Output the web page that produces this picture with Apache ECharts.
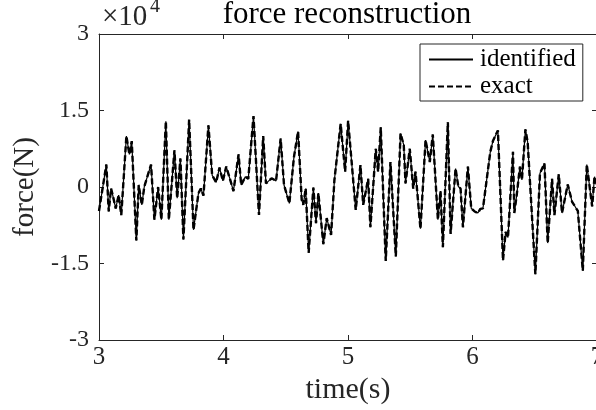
<!DOCTYPE html>
<html>
<head>
<meta charset="utf-8">
<script src="https://cdn.jsdelivr.net/npm/echarts@6/dist/echarts.min.js"></script>
<style>html,body{margin:0;padding:0;background:#fff;}#c{width:596px;height:410px;}</style>
</head>
<body>
<div id="c"></div>
<script>
var FONT = '"Liberation Serif","Times New Roman",serif';
var titleText = 'force reconstruction';
var xName = 'time(s)';
var yName = 'force(N)';
var seriesNames = ['identified', 'exact'];
var xTicks = [3, 4, 5, 6, 7];
var yTicks = [-30000, -15000, 0, 15000, 30000];

var times = [
 3.000, 3.059, 3.078, 3.097, 3.113, 3.134, 3.158, 3.179, 3.220, 3.244,
 3.263, 3.300, 3.319, 3.344, 3.364, 3.418, 3.445, 3.475, 3.501, 3.537,
 3.561, 3.606, 3.628, 3.654, 3.678, 3.724, 3.759, 3.799, 3.818, 3.839,
 3.879, 3.909, 3.941, 3.968, 3.995, 4.022, 4.054, 4.080, 4.121, 4.142,
 4.175, 4.199, 4.241, 4.285, 4.319, 4.341, 4.386, 4.422, 4.459, 4.486,
 4.529, 4.566, 4.599, 4.628, 4.641, 4.660, 4.684, 4.722, 4.743, 4.762,
 4.802, 4.829, 4.864, 4.891, 4.941, 4.977, 5.001, 5.062, 5.100, 5.122,
 5.162, 5.180, 5.223, 5.242, 5.263, 5.303, 5.341, 5.384, 5.422, 5.448,
 5.462, 5.496, 5.524, 5.542, 5.582, 5.623, 5.657, 5.681, 5.722, 5.743,
 5.762, 5.802, 5.824, 5.864, 5.886, 5.904, 5.923, 5.963, 5.990, 6.017,
 6.043, 6.063, 6.084, 6.143, 6.164, 6.204, 6.245, 6.266, 6.285, 6.325,
 6.336, 6.355, 6.381, 6.397, 6.425, 6.443, 6.505, 6.542, 6.578, 6.604,
 6.639, 6.658, 6.693, 6.719, 6.765, 6.800, 6.846, 6.886, 6.918, 6.961,
 6.980, 7.000
];

var identified = [
 -4700, 4400, -4800, -300, -1900, -4200, -1600, -5500, 10000, 6400,
 9000, -10500, 400, -3500, 100, 4400, -6400, 0, -6400, 12900,
 -6400, 7200, -2200, 5600, -10300, 13200, -8400, -1200, -300, -1700,
 12100, 2300, 900, 3800, 1200, 4000, 1400, -800, 6400, 400,
 2000, 1600, 13900, -5500, 10000, 700, 1700, 1200, 9500, 400,
 -3200, 5900, 10900, -2500, -3500, -300, -12900, -100, -7100, -1200,
 -11200, -6100, -9400, 1400, 12400, 3000, 13000, -4500, 4300, -3500,
 1600, -7900, 7500, 3000, 11700, -14500, 4900, -13600, 10500, 8200,
 700, 7500, -300, 3000, -8200, 9200, 4900, 10300, -6400, -800,
 -11800, 12700, -9200, 3600, 100, -300, -7900, 4000, -4200, -4800,
 -5100, -4300, -4200, 6900, 9000, 11100, -14400, -8800, -9900, 6900,
 -5100, -1600, 4000, 1400, 11300, 8800, -17100, 2700, 4600, -11000,
 1600, -5500, 2500, -5100, 500, -2900, -4700, -16400, 4400, -3800,
 2000, 400
];

var exact = [
 -4700, 4400, -4800, -300, -1900, -4200, -1600, -5500, 10000, 6400,
 9000, -10500, 400, -3500, 100, 4400, -6400, 0, -6400, 12900,
 -6400, 7200, -2200, 5600, -10300, 13200, -8400, -1200, -300, -1700,
 12100, 2300, 900, 3800, 1200, 4000, 1400, -800, 6400, 400,
 2000, 1600, 13900, -5500, 10000, 700, 1700, 1200, 9500, 400,
 -3200, 5900, 10900, -2500, -3500, -300, -12900, -100, -7100, -1200,
 -11200, -6100, -9400, 1400, 12400, 3000, 13000, -4500, 4300, -3500,
 1600, -7900, 7500, 3000, 11700, -14500, 4900, -13600, 10500, 8200,
 700, 7500, -300, 3000, -8200, 9200, 4900, 10300, -6400, -800,
 -11800, 12700, -9200, 3600, 100, -300, -7900, 4000, -4200, -4800,
 -5100, -4300, -4200, 6900, 9000, 11100, -14400, -8800, -9900, 6900,
 -5100, -1600, 4000, 1400, 11300, 8800, -17100, 2700, 4600, -11000,
 1600, -5500, 2500, -5100, 500, -2900, -4700, -16400, 4400, -3800,
 2000, 400
];

function pairs(ys) { return times.map(function (t, i) { return [t, ys[i]]; }); }

var AX = '#262626';
var xMin = xTicks[0], xMax = xTicks[xTicks.length - 1], xInt = xTicks[1] - xTicks[0];
var yMin = yTicks[0], yMax = yTicks[yTicks.length - 1], yInt = yTicks[1] - yTicks[0];

function fmtY(v) { return String(v / 10000); }

function axisCommon() {
  return {
    axisLine: { show: true, onZero: false, lineStyle: { color: AX, width: 1 } },
    axisTick: { show: true, inside: true, length: 5, lineStyle: { color: AX } },
    splitLine: { show: false }
  };
}

var chart = echarts.init(document.getElementById('c'), null, { renderer: 'canvas' });
chart.setOption({
  animation: false,
  backgroundColor: '#fff',
  title: {
    text: titleText, left: 347, top: -1, textAlign: 'center', padding: 0,
    textStyle: { fontFamily: FONT, fontWeight: 'normal', fontSize: 31, color: '#000' }
  },
  grid: { left: 99, top: 34, width: 498, height: 306, containLabel: false, outerBoundsMode: 'none' },
  legend: {
    data: seriesNames, orient: 'vertical', left: 420, top: 44,
    padding: [3, 7, 2, 8], itemGap: 2, itemWidth: 44, itemHeight: 14,
    backgroundColor: '#fff', borderColor: AX, borderWidth: 1, borderRadius: 0,
    itemStyle: { opacity: 0, color: 'rgba(0,0,0,0)', borderWidth: 0 },
    textStyle: { fontFamily: FONT, fontSize: 25, color: '#000', padding: [0, 0, 0, 2] }
  },
  graphic: [
    { type: 'text', left: 102, top: 3, style: { text: '×10', font: '29px ' + FONT, fill: '#262626' } },
    { type: 'text', left: 150, top: -3, style: { text: '4', font: '20px ' + FONT, fill: '#262626' } }
  ],
  xAxis: [
    Object.assign(axisCommon(), { type: 'value', min: xMin, max: xMax, interval: xInt, position: 'bottom',
      name: xName, nameLocation: 'middle', nameGap: 29,
      nameTextStyle: { fontFamily: FONT, fontSize: 30, color: '#262626' },
      axisLabel: { fontFamily: FONT, fontSize: 25, color: '#262626', margin: 5 } }),
    Object.assign(axisCommon(), { type: 'value', min: xMin, max: xMax, interval: xInt, position: 'top',
      axisLabel: { show: false } })
  ],
  yAxis: [
    Object.assign(axisCommon(), { type: 'value', min: yMin, max: yMax, interval: yInt, position: 'left',
      name: yName, nameLocation: 'middle', nameGap: 55,
      nameTextStyle: { fontFamily: FONT, fontSize: 29, color: '#262626' },
      axisLabel: { fontFamily: FONT, fontSize: 24, color: '#262626', margin: 10, formatter: fmtY } }),
    Object.assign(axisCommon(), { type: 'value', min: yMin, max: yMax, interval: yInt, position: 'right',
      axisLabel: { show: false } })
  ],
  series: [
    { name: seriesNames[0], type: 'line', data: pairs(identified), showSymbol: false, symbol: 'none',
      lineStyle: { color: '#000', width: 1.2 }, itemStyle: { color: '#000' } },
    { name: seriesNames[1], type: 'line', data: pairs(exact), showSymbol: false, symbol: 'none',
      lineStyle: { color: '#000', width: 2.4, type: [6, 3] }, itemStyle: { color: '#000' } }
  ]
});
</script>
</body>
</html>
